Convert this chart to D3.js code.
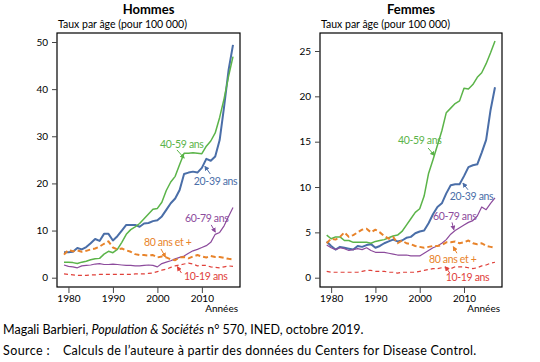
<!DOCTYPE html>
<html>
<head>
<meta charset="utf-8">
<script src="https://cdn.jsdelivr.net/npm/d3@7"></script>
<style>
  body { margin: 0; background: #fff; }
  svg { display: block; font-family: Lato, "Liberation Sans", sans-serif; }
</style>
</head>
<body>
<div id="chart"></div>
<script>
// Years 1979-2017
const years = d3.range(1979, 2018);

// Hommes
const hommes10_19 = [0.8,0.7,0.6,0.5,0.5,0.5,0.6,0.6,0.7,0.7,0.7,0.7,0.7,0.7,0.7,0.7,0.8,0.8,0.8,0.9,1.0,1.3,1.6,1.8,2.2,2.5,2.7,2.9,3.1,2.9,2.5,2.6,2.6,2.3,2.2,2.1,2.3,2.5,2.4];
const hommes20_39 = [5.4,5.4,5.5,6.3,6.0,6.5,7.3,8.2,7.8,9.3,9.3,7.9,8.8,10.0,11.2,11.2,11.2,10.8,11.5,11.6,12.0,12.2,13.0,14.4,15.8,16.8,18.6,22.0,22.3,22.5,22.3,23.3,25.2,24.8,25.7,29.2,36.3,44.0,49.4];
const hommes40_59 = [3.3,3.3,3.2,3.0,3.3,3.5,3.8,4.0,4.1,5.0,5.6,5.3,6.0,7.5,9.2,10.2,10.8,11.5,12.5,13.5,14.5,14.7,16.0,18.5,20.3,21.5,24.0,26.4,26.4,26.5,26.4,26.3,27.9,29.0,30.7,34.0,38.0,42.7,46.9];
const hommes60_79 = [2.7,2.4,2.3,2.1,2.5,2.6,2.7,2.9,3.0,2.8,2.8,2.9,2.8,2.7,2.6,2.6,2.5,2.5,2.6,2.7,2.6,2.3,3.0,3.3,3.6,4.0,4.3,4.6,5.2,5.7,6.0,6.4,6.8,7.5,9.2,9.6,11.0,13.0,14.9];
const hommes80p = [4.9,5.9,5.6,5.8,5.5,5.7,6.0,6.2,6.6,7.2,7.7,6.4,6.0,6.2,5.8,5.5,5.0,4.8,4.8,4.7,4.8,4.3,4.5,4.3,3.9,3.7,4.3,4.4,4.1,4.5,4.8,4.5,4.3,4.6,4.4,4.4,4.2,4.0,3.9];

// Femmes
const femmes10_19 = [0.7,0.6,0.6,0.6,0.6,0.6,0.6,0.6,0.7,0.8,0.8,0.7,0.7,0.7,0.6,0.6,0.5,0.6,0.6,0.6,0.6,0.7,0.8,0.9,1.0,1.0,1.1,1.1,1.0,1.2,1.2,1.2,1.1,1.0,1.1,1.3,1.4,1.6,1.7];
const femmes20_39 = [4.0,3.5,3.1,3.4,3.3,3.2,3.1,3.5,3.4,3.6,3.7,3.3,3.5,3.8,4.0,4.2,4.0,4.1,4.4,4.5,4.9,5.1,5.2,6.0,7.0,7.8,8.2,9.3,10.2,10.3,10.3,11.2,12.2,12.4,12.5,13.8,15.2,18.5,21.0];
const femmes40_59 = [4.7,4.3,4.5,4.5,4.1,4.1,3.9,3.9,3.9,3.9,3.8,4.0,4.1,4.2,4.4,4.6,4.7,5.1,5.8,6.5,7.2,7.6,9.0,11.5,13.0,14.6,16.2,18.2,18.7,19.2,19.5,20.9,20.8,21.3,22.1,22.6,23.6,24.8,26.1];
const femmes60_79 = [3.6,3.3,3.1,3.3,3.2,3.0,3.1,3.2,3.1,3.3,3.0,2.8,2.8,2.8,2.7,2.6,2.5,2.5,2.5,2.4,2.4,2.4,2.7,3.0,3.3,3.5,3.8,4.2,4.8,5.2,5.5,5.8,6.1,6.3,6.8,7.8,7.5,8.2,8.8];
const femmes80p = [3.8,4.3,4.2,4.5,5.0,4.5,4.7,5.0,5.3,5.4,5.0,5.3,5.0,4.6,4.3,4.5,3.8,4.1,3.8,3.7,3.5,3.4,3.3,3.4,3.5,3.5,3.6,3.9,3.9,4.0,3.8,3.9,4.1,3.8,3.7,3.8,3.5,3.4,3.3];

const xTicks = [1980, 1990, 2000, 2010];
const hommesYTicks = [0, 10, 20, 30, 40, 50];
const femmesYTicks = [0, 5, 10, 15, 20, 25];

const ageLabels = ["10-19 ans", "20-39 ans", "40-59 ans", "60-79 ans", "80 ans et +"];

// styles per age group, same order as ageLabels
const styles = [
  { color: "#e0413b", width: 1.2, dash: "4,3" },
  { color: "#4a6ea8", width: 2,   dash: null },
  { color: "#5bb449", width: 1.5, dash: null },
  { color: "#8c4b9c", width: 1.2, dash: null },
  { color: "#e8832a", width: 2,   dash: "5,3" }
];

const svg = d3.select("#chart").append("svg")
  .attr("width", 540)
  .attr("height", 362);

// arrow markers
const defs = svg.append("defs");
styles.forEach(function(s, i) {
  defs.append("marker")
    .attr("id", "arr" + i)
    .attr("viewBox", "0 0 10 10")
    .attr("refX", 8).attr("refY", 5)
    .attr("markerWidth", 5).attr("markerHeight", 5)
    .attr("orient", "auto")
    .append("path")
    .attr("d", "M0,0L10,5L0,10z")
    .attr("fill", s.color);
});

const panels = [
  {
    title: "Hommes",
    series: [hommes10_19, hommes20_39, hommes40_59, hommes60_79, hommes80p],
    yTicks: hommesYTicks,
    yMax: 50, yTop: 42,
    box: { x0: 57, x1: 240, y0: 33, y1: 287 },
    xr: [64, 233],
    // label [year, value] and arrow [y1, v1, y2, v2] per age group
    notes: [
      { at: [2006.0, -0.5], arrow: [2005.4, 1.0, 2004.5, 2.3] },
      { at: [2008.2, 19.7], arrow: [2011.9, 22.0, 2010.7, 23.6] },
      { at: [2000.6, 27.5], arrow: [2004.4, 27.1, 2006.0, 25.4] },
      { at: [2006.2, 11.8], arrow: [2012.1, 11.2, 2013.0, 9.7] },
      { at: [1997.0, 6.7], arrow: [2000.8, 6.1, 2001.8, 4.4] }
    ]
  },
  {
    title: "Femmes",
    series: [femmes10_19, femmes20_39, femmes40_59, femmes60_79, femmes80p],
    yTicks: femmesYTicks,
    yMax: 25, yTop: 51,
    box: { x0: 320, x1: 502, y0: 33, y1: 287 },
    xr: [326.7, 495],
    notes: [
      { at: [2005.9, -0.4], arrow: [2006.8, 0.5, 2005.8, 1.2] },
      { at: [2006.8, 8.6], arrow: [2010.9, 9.7, 2009.8, 10.4] },
      { at: [1995.1, 14.7], arrow: [2001.9, 14.3, 2003.3, 13.5] },
      { at: [2003.0, 6.4], arrow: [2007.3, 6.1, 2007.7, 5.3] },
      { at: [2002.1, 1.6], arrow: [2008.4, 2.7, 2007.6, 3.4] }
    ]
  }
];

panels.forEach(function(p) {
  const x = d3.scaleLinear().domain([1979, 2017]).range(p.xr);
  const y = d3.scaleLinear().domain([0, p.yMax]).range([277.7, p.yTop]);
  const g = svg.append("g");
  const b = p.box;

  // title + unit
  g.append("text")
    .attr("x", (b.x0 + b.x1) / 2).attr("y", 14)
    .attr("text-anchor", "middle")
    .attr("font-size", 13).attr("font-weight", "bold")
    .text(p.title);
  g.append("text")
    .attr("x", b.x0 + 1).attr("y", 28)
    .attr("font-size", 10.5)
    .text("Taux par âge (pour 100 000)");

  // frame
  g.append("rect")
    .attr("x", b.x0).attr("y", b.y0)
    .attr("width", b.x1 - b.x0).attr("height", b.y1 - b.y0)
    .attr("fill", "none").attr("stroke", "#000").attr("stroke-width", 1.2);

  // y axis
  const yAxis = g.append("g")
    .attr("transform", "translate(" + b.x0 + ",0)")
    .call(d3.axisLeft(y).tickValues(p.yTicks).tickSize(5).tickPadding(4));
  yAxis.select(".domain").remove();
  yAxis.selectAll("text").attr("font-size", 10).attr("font-family", "Lato");
  yAxis.selectAll("line").attr("stroke", "#444");

  // x axis
  const xAxis = g.append("g")
    .attr("transform", "translate(0," + b.y1 + ")")
    .call(d3.axisBottom(x).tickValues(xTicks).tickFormat(d3.format("d")).tickSize(6).tickPadding(2));
  xAxis.select(".domain").remove();
  xAxis.selectAll("text").attr("font-size", 10).attr("font-family", "Lato");
  xAxis.selectAll("line").attr("stroke", "#444");

  g.append("text")
    .attr("x", b.x1 - 2).attr("y", 312)
    .attr("text-anchor", "end")
    .attr("font-size", 10)
    .text("Années");

  // lines
  const line = d3.line()
    .x(function(d, i) { return x(years[i]); })
    .y(function(d) { return y(d); });

  p.series.forEach(function(s, i) {
    const st = styles[i];
    g.append("path")
      .datum(s)
      .attr("d", line)
      .attr("fill", "none")
      .attr("stroke", st.color)
      .attr("stroke-width", st.width)
      .attr("stroke-dasharray", st.dash)
      .attr("stroke-linejoin", "round");
  });

  // labels and arrows
  p.notes.forEach(function(n, i) {
    const st = styles[i];
    g.append("text")
      .attr("x", x(n.at[0])).attr("y", y(n.at[1]))
      .attr("font-size", 10.5)
      .attr("letter-spacing", -0.35)
      .attr("fill", st.color)
      .text(ageLabels[i]);
    g.append("line")
      .attr("x1", x(n.arrow[0])).attr("y1", y(n.arrow[1]))
      .attr("x2", x(n.arrow[2])).attr("y2", y(n.arrow[3]))
      .attr("stroke", st.color)
      .attr("stroke-width", 1)
      .attr("marker-end", "url(#arr" + i + ")");
  });
});

// footer
const f1 = svg.append("text").attr("x", 3).attr("y", 334).attr("font-size", 12.5);
f1.append("tspan").text("Magali Barbieri, ");
f1.append("tspan").attr("font-style", "italic").text("Population & Sociétés");
f1.append("tspan").text(" n° 570, INED, octobre 2019.");

const f2 = svg.append("text").attr("y", 355).attr("font-size", 12.5);
f2.append("tspan").attr("x", 3).attr("letter-spacing", 0.4).text("Source :");
f2.append("tspan").attr("x", 63).attr("letter-spacing", 0.25)
  .text("Calculs de l’auteure à partir des données du Centers for Disease Control.");
</script>
</body>
</html>
